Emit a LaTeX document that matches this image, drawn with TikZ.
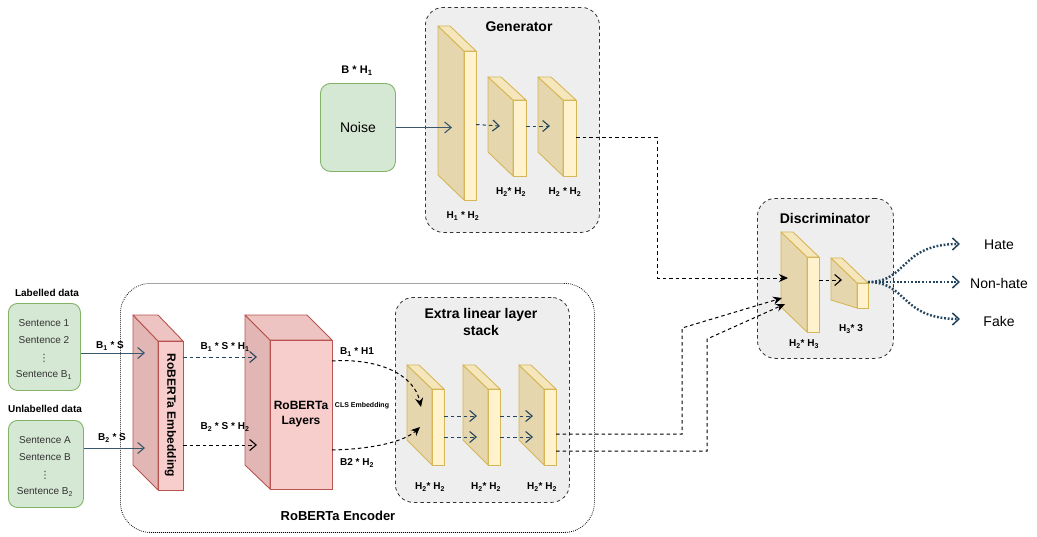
\documentclass[tikz,border=0pt]{standalone}
\usepackage{fontspec}
\setmainfont{Liberation Sans}
\newfontfamily\symfont{DejaVu Sans}
\usetikzlibrary{arrows.meta}

\definecolor{greenfill}{HTML}{D5E8D4}
\definecolor{greenline}{HTML}{82B366}
\definecolor{yfront}{HTML}{FFF2CC}
\definecolor{yside}{HTML}{E5D6AE}
\definecolor{ytop}{HTML}{F5E6BC}
\definecolor{yline}{HTML}{D6B656}
\definecolor{rfront}{HTML}{F8CECC}
\definecolor{rside}{HTML}{E2B6B5}
\definecolor{rtop}{HTML}{EDC4C2}
\definecolor{rline}{HTML}{B85450}
\definecolor{panel}{HTML}{EEEEEE}
\definecolor{slate}{HTML}{23445D}
\definecolor{textgrey}{HTML}{333333}

\newcommand\fsz[2]{\fontsize{#1}{#2}\selectfont}
\newcommand\sbs[1]{\textsubscript{#1}}

% layer block drawn as a cube: name, colour scheme, front x, front y,
% front width, front height, depth dx, depth dy, back bottom y
\newcommand\layerbox[9]{%
  \filldraw[#2sidestyle] ({#3-#7},{#4-#8}) -- (#3,#4) -- (#3,{#4+#6}) -- ({#3-#7},#9) -- cycle;
  \filldraw[#2topstyle] ({#3-#7},{#4-#8}) -- ({#3-#7+#5},{#4-#8}) -- ({#3+#5},#4) -- (#3,#4) -- cycle;
  \node[#2frontstyle, minimum width=#5pt, minimum height=#6pt, anchor=north west] (#1) at (#3,#4) {};
}

\tikzset{
  ysidestyle/.style={fill=yside, draw=yline, line width=0.9pt, line join=round},
  ytopstyle/.style={fill=ytop, draw=yline, line width=0.9pt, line join=round},
  yfrontstyle/.style={fill=yfront, draw=yline, line width=0.9pt, inner sep=0pt, outer sep=0pt},
  rsidestyle/.style={fill=rside, draw=rline, line width=0.9pt, line join=round},
  rtopstyle/.style={fill=rtop, draw=rline, line width=0.9pt, line join=round},
  rfrontstyle/.style={fill=rfront, draw=rline, line width=0.9pt, inner sep=0pt, outer sep=0pt},
  databox/.style={fill=greenfill, draw=greenline, line width=0.9pt, rounded corners=9pt, inner sep=0pt, anchor=north west},
  container/.style={fill=panel, draw=textgrey, line width=0.8pt, dash pattern=on 3.5pt off 3pt, rounded corners=18pt, inner sep=0pt, anchor=north west},
  lbl/.style={font=\bfseries\fsz{10}{12}, inner sep=1pt},
  title/.style={font=\bfseries\fsz{14}{16}, align=center, inner sep=0pt},
  sent/.style={font=\fsz{10}{12}, text=textgrey, inner sep=0pt},
  vdot/.style={font=\symfont\fsz{10}{12}, text=textgrey, inner sep=0pt},
  solidarrow/.style={draw=slate!90, line width=1pt, -{Straight Barb[length=6.5pt,width=11pt,line width=1.1pt]}},
  bluedash/.style={draw=slate, line width=1pt, dash pattern=on 3.5pt off 3pt, -{Straight Barb[length=6.5pt,width=11pt,line width=1.1pt]}},
  blackdashopen/.style={draw=black, line width=1pt, dash pattern=on 3.5pt off 3pt, -{Straight Barb[length=6.5pt,width=11pt,line width=1.1pt]}},
  blackdash/.style={draw=black, line width=1pt, dash pattern=on 3.5pt off 3pt, -{Stealth[length=9pt,width=8pt]}},
  outdots/.style={draw=slate, line width=2.4pt, dash pattern=on 1.8pt off 1.8pt, -{Straight Barb[length=6.5pt,width=12pt,line width=1.5pt]}},
  outlbl/.style={font=\fsz{14}{16}, inner sep=0pt}
}

\begin{document}
\begin{tikzpicture}[x=1pt, y=-1pt]
\useasboundingbox (0,0) rectangle (1037,536);

% ---------- containers ----------
\node[draw=black, line width=0.8pt, dash pattern=on 0.8pt off 1.2pt, rounded corners=30pt,
      minimum width=474pt, minimum height=249pt, inner sep=0pt, anchor=north west] (encoder) at (120,283) {};
\node[font=\bfseries\fsz{13}{15}] (enctitle) at (338,516) {RoBERTa Encoder};

\node[container, minimum width=174pt, minimum height=225pt] (gen) at (425,7) {};
\node[title] (gentitle) at (519,27) {Generator};

\node[container, minimum width=174pt, minimum height=205pt] (stack) at (395,297) {};
\node[title, font=\bfseries\fsz{14}{17}] (stacktitle) at (481,322) {Extra linear layer\\stack};

\node[container, minimum width=136pt, minimum height=160pt] (disc) at (757,198) {};
\node[title] (disctitle) at (825,218) {Discriminator};

% ---------- input data ----------
\node[lbl] (labtitle) at (47,293) {Labelled data};
\node[databox, minimum width=72pt, minimum height=87pt] (lab) at (8,303) {};
\node[sent] (s1) at (44,323) {Sentence 1};
\node[sent] (s2) at (44,340) {Sentence 2};
\node[vdot] (s3) at (44,358) {⋮};
\node[sent] (s4) at (44,375) {Sentence B\sbs{1}};

\node[lbl] (unlabtitle) at (45,409) {Unlabelled data};
\node[databox, minimum width=75pt, minimum height=87pt] (unlab) at (8,420) {};
\node[sent] (u1) at (45,440) {Sentence A};
\node[sent] (u2) at (45,457) {Sentence B};
\node[vdot] (u3) at (45,475) {⋮};
\node[sent] (u4) at (45,492) {Sentence B\sbs{2}};

\node[databox, minimum width=75pt, minimum height=88pt, rounded corners=10pt] (noise) at (320,83) {};
\node[font=\fsz{14}{16}, inner sep=0pt] (noisetxt) at (noise.center) {Noise};
\node[lbl, font=\bfseries\fsz{11}{13}] (noiselbl) at (357,71) {B * H\sbs{1}};

% ---------- RoBERTa blocks ----------
\layerbox{emb}{r}{158}{341}{25}{149}{25}{26}{465}
\node[rotate=-90, font=\bfseries\fsz{12}{14}, inner sep=0pt] (embtxt) at (emb.center) {RoBERTa Embedding};

\layerbox{layers}{r}{270}{340}{62}{149}{25}{25}{465}
\node[font=\bfseries\fsz{12}{15}, align=center, inner sep=0pt] (layerstxt) at (301,414) {RoBERTa\\Layers};

% ---------- extra linear layers ----------
\layerbox{e1}{y}{432}{389}{12}{76}{25}{24}{440}
\layerbox{e2}{y}{488}{389}{12}{76}{25}{24}{440}
\layerbox{e3}{y}{544}{389}{12}{76}{25}{24}{440}
\node[lbl] (e1lbl) at (430,487) {H\sbs{2}* H\sbs{2}};
\node[lbl] (e2lbl) at (486,487) {H\sbs{2}* H\sbs{2}};
\node[lbl] (e3lbl) at (542,487) {H\sbs{2}* H\sbs{2}};

% ---------- generator ----------
\layerbox{g1}{y}{464}{51}{12}{149}{26}{25}{175}
\layerbox{g2}{y}{513}{100}{13}{76}{25}{23}{152}
\layerbox{g3}{y}{563}{100}{13}{76}{25}{23}{152}
\node[lbl] (g1lbl) at (463,216) {H\sbs{1} * H\sbs{2}};
\node[lbl] (g2lbl) at (511,192) {H\sbs{2}* H\sbs{2}};
\node[lbl] (g3lbl) at (565,192) {H\sbs{2} * H\sbs{2}};

% ---------- discriminator ----------
\layerbox{d1}{y}{807}{257}{12}{75}{26}{25}{307}
\layerbox{d2}{y}{857}{283}{11}{25}{26}{25}{300}
\node[lbl] (d1lbl) at (804,344) {H\sbs{2}* H\sbs{3}};
\node[lbl] (d2lbl) at (851,329) {H\sbs{3}* 3};

% ---------- outputs ----------
\node[outlbl] (hate) at (999,245) {Hate};
\node[outlbl] (nonhate) at (999,283) {Non-hate};
\node[outlbl] (fake) at (999,321) {Fake};
\coordinate (hatetip) at (960,244);
\coordinate (nonhatetip) at (960,282);
\coordinate (faketip) at (960,319);
\coordinate (dout) at (868,282);

% ---------- connectors ----------
\coordinate (embin1) at (145,353);
\coordinate (embin2) at (145,448);
\draw[solidarrow] (lab.east |- embin1) -- (embin1);
\draw[solidarrow] (unlab.east |- embin2) -- (embin2);
\node[lbl] (l1) at (110,346) {B\sbs{1} * S};
\node[lbl] (l2) at (112,438) {B\sbs{2} * S};

\coordinate (layin1) at (257,357);
\coordinate (layin2) at (257,445);
\draw[bluedash] (emb.east |- layin1) -- (layin1);
\draw[blackdashopen] (emb.east |- layin2) -- (layin2);
\node[lbl] (l3) at (225,347) {B\sbs{1} * S * H\sbs{1}};
\node[lbl] (l4) at (225,427) {B\sbs{2} * S * H\sbs{2}};

\coordinate (cls1) at (421,407);
\coordinate (cls2) at (420,427);
\draw[blackdash] (layers.east |- 0,361) .. controls (378,358) and (414,374) .. (cls1);
\draw[blackdash] (layers.east |- 0,450) .. controls (375,449) and (405,441) .. (cls2);
\node[lbl] (l5) at (357,352) {B\sbs{1} * H1};
\node[font=\bfseries\fsz{7}{8}, inner sep=0pt] (l6) at (362,406) {CLS Embedding};
\node[lbl] (l7) at (357,463) {B2 * H\sbs{2}};

\draw[bluedash] ([yshift=11pt]e1.east) -- ([xshift=-11pt,yshift=11pt]e2.west);
\draw[bluedash] ([yshift=-10pt]e1.east) -- ([xshift=-11pt,yshift=-10pt]e2.west);
\draw[bluedash] ([yshift=11pt]e2.east) -- ([xshift=-11pt,yshift=11pt]e3.west);
\draw[bluedash] ([yshift=-10pt]e2.east) -- ([xshift=-11pt,yshift=-10pt]e3.west);

\draw[solidarrow] (noise.east) -- ([xshift=-12pt]g1.west |- noise.east);
\draw[bluedash] ([yshift=1pt]g1.east) -- ([xshift=-13pt]g2.west |- 0,126);
\draw[bluedash] (g2.east |- 0,126) -- ([xshift=-13pt]g3.west |- 0,126);

\coordinate (d1in1) at (788,278);
\coordinate (d1in2) at (782,298);
\coordinate (d1in3) at (785,304);
\draw[blackdash] (g3.east |- 0,137) -- (657,137) -- (657,278) -- (d1in1);
\draw[blackdash] (e3.east |- 0,434) -- (682,434) -- (682,328) -- (d1in2);
\draw[blackdash] (e3.east |- 0,451) -- (707,451) -- (707,339) -- (d1in3);

\draw[blackdashopen] (d1.east |- 0,280) -- ([xshift=-15pt]d2.west |- 0,280);

\draw[outdots] (dout) .. controls (908,282) and (900,244) .. (hatetip);
\draw[outdots] (dout) -- (nonhatetip);
\draw[outdots] (dout) .. controls (908,282) and (900,319) .. (faketip);
\end{tikzpicture}
\end{document}
